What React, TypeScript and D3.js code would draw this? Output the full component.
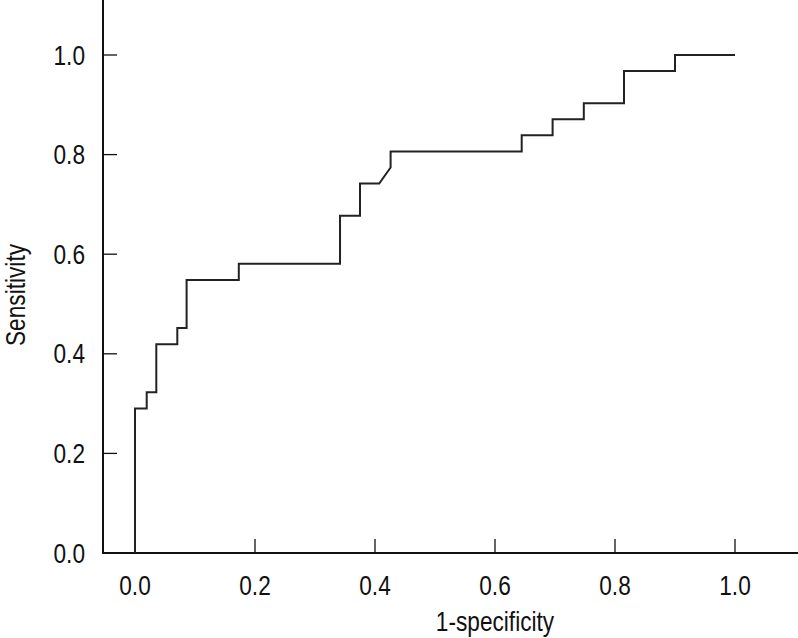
import React from "react";
import * as d3 from "d3";

const fpr = [0, 0, 0.0195, 0.0195, 0.0355, 0.0355, 0.0705, 0.0705, 0.086, 0.086, 0.173, 0.173, 0.3417, 0.3417, 0.375, 0.375, 0.407, 0.426, 0.426, 0.6445, 0.6445, 0.696, 0.696, 0.748, 0.748, 0.815, 0.815, 0.9, 0.9, 1.0];
const tpr = [0, 0.29, 0.29, 0.3227, 0.3227, 0.419, 0.419, 0.4516, 0.4516, 0.548, 0.548, 0.581, 0.581, 0.6774, 0.6774, 0.742, 0.742, 0.774, 0.806, 0.806, 0.839, 0.839, 0.871, 0.871, 0.903, 0.903, 0.968, 0.968, 1.0, 1.0];
const xTicks = [0, 0.2, 0.4, 0.6, 0.8, 1.0];
const yTicks = [0, 0.2, 0.4, 0.6, 0.8, 1.0];
const xTitle = "1-specificity";
const yTitle = "Sensitivity";

const W = 798;
const H = 638;
const FONT = "'Liberation Sans', Arial, sans-serif";
const SX = 0.84;

function NText(props: { x: number; y: number; rotate?: number; anchor: string; children: React.ReactNode }) {
  const { x, y, rotate = 0, anchor, children } = props;
  return (
    <g transform={`translate(${x},${y}) rotate(${rotate}) scale(${SX},1)`}>
      <text x={0} y={0} textAnchor={anchor} fontSize={27} fill="#111">
        {children}
      </text>
    </g>
  );
}

export default function App() {
  const x = d3.scaleLinear().domain([0, 1]).range([135, 735]);
  const y = d3.scaleLinear().domain([0, 1]).range([553, 55]);
  const axisX = 103;
  const axisY = 553;
  const tickLen = 14;
  const pts = fpr.map((f, i) => [f, tpr[i]] as [number, number]);
  const line = d3
    .line<[number, number]>()
    .x((d) => x(d[0]))
    .y((d) => y(d[1]));

  return (
    <svg
      width={W}
      height={H}
      style={{ position: "absolute", left: 0, top: 0, background: "#fff" }}
      fontFamily={FONT}
    >
      <rect x={0} y={0} width={W} height={H} fill="#fff" />
      <line x1={axisX} y1={0} x2={axisX} y2={axisY + 1} stroke="#111" strokeWidth={2} />
      <line x1={axisX - 1} y1={axisY} x2={W} y2={axisY} stroke="#111" strokeWidth={2} />
      {xTicks.map((t) => (
        <g key={"x" + t}>
          <line x1={x(t)} x2={x(t)} y1={axisY} y2={axisY - tickLen} stroke="#111" strokeWidth={1.3} />
          <NText x={x(t)} y={595} anchor="middle">
            {t.toFixed(1)}
          </NText>
        </g>
      ))}
      {yTicks.map((t) => (
        <g key={"y" + t}>
          <line x1={axisX} x2={axisX + tickLen} y1={y(t)} y2={y(t)} stroke="#111" strokeWidth={1.3} />
          <NText x={85} y={y(t) + 9.5} anchor="end">
            {t.toFixed(1)}
          </NText>
        </g>
      ))}
      <NText x={495} y={631} anchor="middle">
        {xTitle}
      </NText>
      <NText x={25} y={295} rotate={-90} anchor="middle">
        {yTitle}
      </NText>
      <path d={line(pts) || ""} fill="none" stroke="#222" strokeWidth={2} strokeLinejoin="miter" />
    </svg>
  );
}
